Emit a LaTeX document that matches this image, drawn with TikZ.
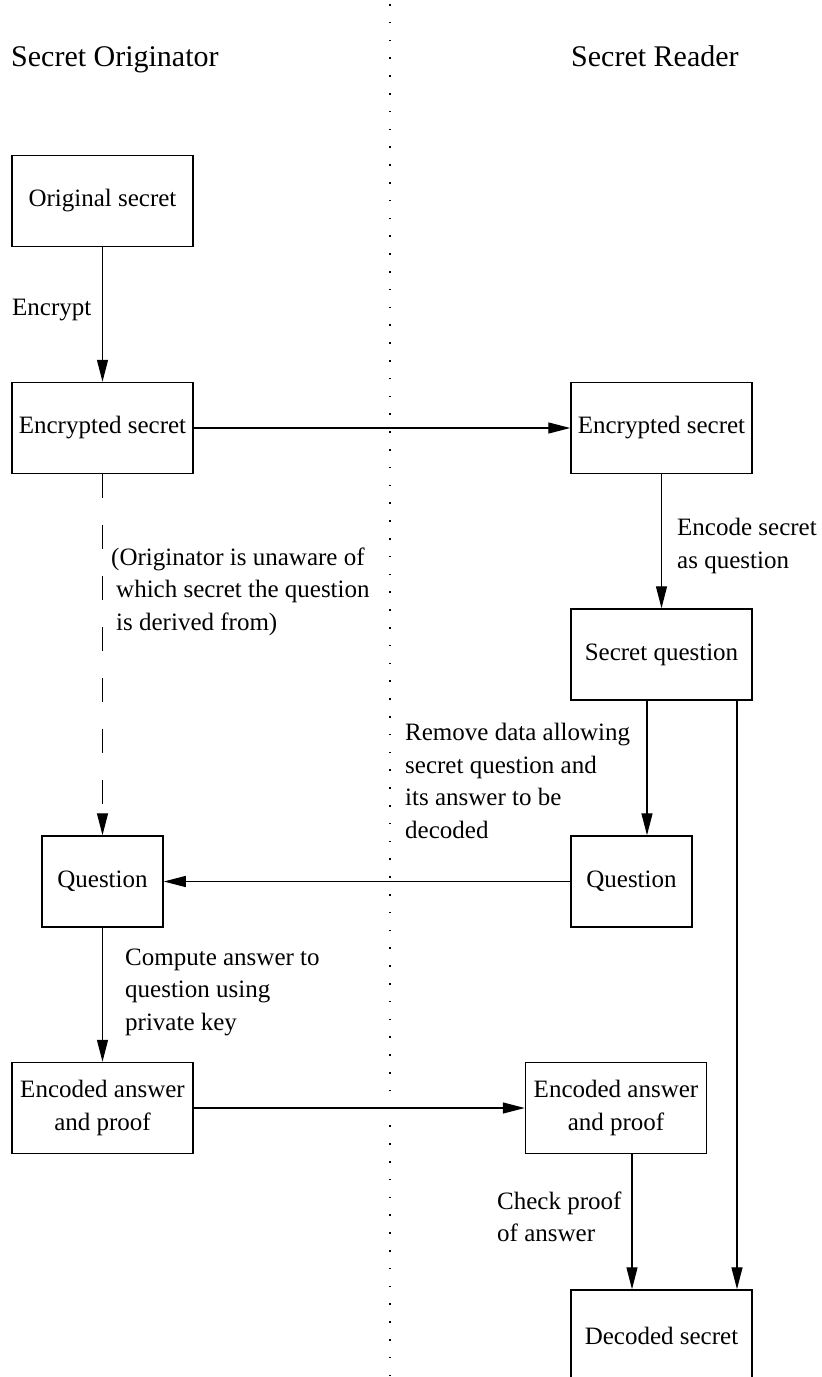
\documentclass[tikz,border=0pt]{standalone}
\usepackage{fontspec}
\setmainfont{Liberation Serif}
\usetikzlibrary{arrows.meta}
\begin{document}
\begin{tikzpicture}[x=1pt,y=-1pt,
  every node/.style={font=\fontsize{25}{32.5}\selectfont},
  box/.style={draw, line width=1.5pt, align=center, inner sep=0pt,
    minimum width=181pt, minimum height=91pt},
  narrow/.style={box, minimum width=121pt},
  arr/.style={line width=1.3pt, -{Triangle[length=22pt,width=11pt]}},
  note/.style={align=left, anchor=west, inner sep=0pt},
  title/.style={font=\fontsize{30}{36}\selectfont, inner sep=0pt, anchor=base west}]
\useasboundingbox (0,0) rectangle (822,1377);
\clip (0,0) rectangle (822,1377);

% divider between the two parties
\draw[line width=1.6pt, dash pattern=on 1.5pt off 16.3pt] (390,4) -- (390,1377);

% column headings
\node[title] (tl) at (11,66.5) {Secret Originator};
\node[title] (tr) at (571,66.5) {Secret Reader};

% originator side
\node[box] (os) at (102.5,201) {Original secret};
\node[box] (el) at (102.5,428) {Encrypted secret};
\node[narrow] (ql) at (102.5,881.5) {Question};
\node[box] (al) at (102.5,1108) {Encoded answer\\and proof};

% reader side
\node[box] (er) at (661.5,428) {Encrypted secret};
\node[box] (sq) at (661.5,654.5) {Secret question};
\node[narrow] (qr) at (631.5,881.5) {Question};
\node[box] (ar) at (616,1108) {Encoded answer\\and proof};
\node[box] (ds) at (661.5,1335.5) {Decoded secret};

% connectors
\draw[arr] (os) -- (el);
\draw[arr] (el) -- (er);
\draw[arr] (er) -- (sq);
\draw[arr, dash pattern=on 24pt off 27pt] (el) -- (ql);
\draw[arr] ([xshift=-14.5pt]sq.south) -- ([xshift=15.5pt]qr.north);
\draw[arr] (qr) -- (ql);
\draw[arr] (ql) -- (al);
\draw[arr] (al) -- (ar);
\draw[arr] ([xshift=16pt]ar.south) -- ([xshift=-29.5pt]ds.north);
\draw[arr] ([xshift=75.5pt]sq.south) -- ([xshift=75.5pt]ds.north);

% step labels
\node[note] (n1) at (12,310.5) {Encrypt};
\node[note] (n2) at (677,546) {Encode secret\\as question};
\node[note] (n3) at (111,591.5) {(Originator is unaware of\\\hspace*{5pt}which secret the question\\\hspace*{5pt}is derived from)};
\node[note] (n4) at (405,781) {Remove data allowing\\secret question and\\its answer to be\\decoded};
\node[note] (n5) at (125,992) {Compute answer to\\question using\\private key};
\node[note] (n6) at (497,1217) {Check proof\\of answer};
\end{tikzpicture}
\end{document}
